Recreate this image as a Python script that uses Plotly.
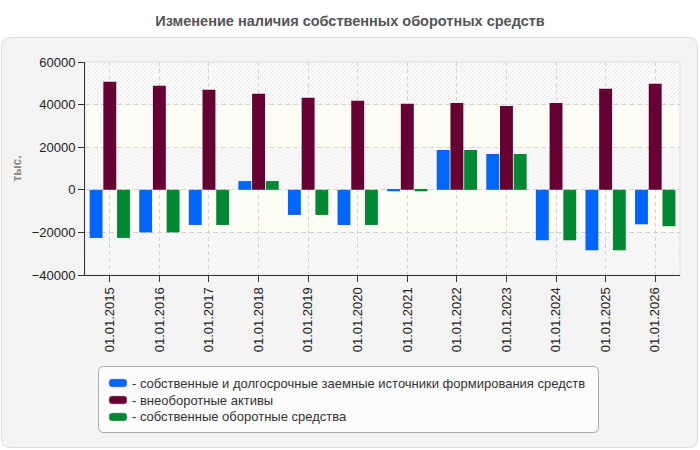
import plotly.graph_objects as go

categories = ["01.01.2015", "01.01.2016", "01.01.2017", "01.01.2018", "01.01.2019", "01.01.2020",
              "01.01.2021", "01.01.2022", "01.01.2023", "01.01.2024", "01.01.2025", "01.01.2026"]
sources = [-22600, -20000, -16500, 4100, -11800, -16500, -700, 18700, 16800, -23700, -28400, -16200]
noncurrent = [50700, 48800, 47000, 45100, 43200, 41800, 40400, 40800, 39400, 40800, 47400, 49800]
working = [-22600, -20000, -16500, 4100, -11800, -16500, -700, 18700, 16800, -23700, -28400, -17100]

names = ["- собственные и долгосрочные заемные источники формирования средств",
         "- внеоборотные активы",
         "- собственные оборотные средства"]
colors = ["#0066ff", "#660033", "#008833"]

W, H = 700, 450
L, R, T, B = 85, 20, 62, 175
PW, PH = W - L - R, H - T - B
Y0, Y1 = -40000, 60000


def px_x(px):
    return (px - L) / PW


def px_y(py):
    return (T + PH - py) / PH


def rounded(x0, y0, x1, y1, r):
    a, b, c, d = px_x(x0), px_x(x1), px_y(y0), px_y(y1)
    rx, ry = r / PW, r / PH
    return (f"M{a+rx},{c} L{b-rx},{c} Q{b},{c} {b},{c-ry} L{b},{d+ry} Q{b},{d} {b-rx},{d} "
            f"L{a+rx},{d} Q{a},{d} {a},{d+ry} L{a},{c-ry} Q{a},{c} {a+rx},{c} Z")


def yv(v):
    return (Y1 - v) / (Y1 - Y0) * PH


shapes = []
# outer panel
shapes.append(dict(type="path", xref="paper", yref="paper", path=rounded(1.5, 37.5, 697.5, 447.5, 9),
                   fillcolor="#f4f4f4", line=dict(color="#dedede", width=1), layer="below"))
# legend box
shapes.append(dict(type="path", xref="paper", yref="paper", path=rounded(98.5, 366.5, 598.5, 432.5, 5),
                   fillcolor="#fcfcfc", line=dict(color="#aaaaaa", width=1), layer="below"))
D = dict(xref="paper", yref="paper", layer="below")
# plot background
shapes.append(dict(type="rect", x0=0, x1=1, y0=0, y1=1, fillcolor="#fbfbfb", line=dict(width=0), **D))
# ivory bands
for a, b in [(20000, 40000), (-20000, 0)]:
    shapes.append(dict(type="rect", x0=0, x1=1, y0=1 - yv(a) / PH, y1=1 - yv(b) / PH,
                       fillcolor="#fdfdf6", line=dict(width=0), **D))
# hatch bands
segs = []
step = 4
for a, b in [(40000, 60000), (0, 20000), (-40000, -20000)]:
    ya, yb = yv(b), yv(a)
    c = ya + 1
    while c < PW + yb:
        if c - yb < 0:
            sx, sy = 0, c
        else:
            sx, sy = c - yb, yb
        if c - ya > PW:
            ex, ey = PW, c - PW
        else:
            ex, ey = c - ya, ya
        segs.append(f"M{sx/PW:.5f},{1-sy/PH:.5f} L{ex/PW:.5f},{1-ey/PH:.5f}")
        c += step
shapes.append(dict(type="path", path=" ".join(segs), line=dict(color="#ebebeb", width=1), **D))
# plot border (top/right)
shapes.append(dict(type="rect", x0=0, x1=1, y0=0, y1=1, line=dict(color="#dcdcdc", width=1), **D))

# manual legend (swatches + labels)
annotations = []
leg_y = [383, 400, 417]
for nm, col, py in zip(names, colors, leg_y):
    shapes.append(dict(type="path", xref="paper", yref="paper", path=rounded(109, py - 4, 127, py + 4, 3),
                       fillcolor=col, line=dict(color="#aaaaaa", width=0.5), layer="above"))
    annotations.append(dict(text=nm, xref="paper", yref="paper", x=px_x(130), y=px_y(py),
                            xanchor="left", yanchor="middle", showarrow=False,
                            font=dict(size=13, color="#333333")))

fig = go.Figure()
for vals, nm, col in zip([sources, noncurrent, working], names, colors):
    fig.add_trace(go.Bar(x=categories, y=vals, name=nm, marker=dict(color=col, line=dict(width=0))))

fig.update_layout(
    width=W, height=H,
    margin=dict(l=L, r=R, t=T, b=B),
    paper_bgcolor="white",
    plot_bgcolor="rgba(0,0,0,0)",
    barmode="group", bargap=0.17, bargroupgap=0.06,
    font=dict(family="Liberation Sans, Arial, sans-serif", color="#222"),
    title=dict(text="<b>Изменение наличия собственных оборотных средств</b>",
               x=0.5, xref="container", xanchor="center",
               y=1 - 21 / H, yref="container", yanchor="middle",
               font=dict(size=14.5, color="#555555")),
    shapes=shapes,
    annotations=annotations,
    showlegend=False,
    xaxis=dict(type="category", tickangle=-90, showgrid=True, gridcolor="#d4d4d4", griddash="4px,3px",
               gridwidth=1, showline=True, linecolor="#333333", linewidth=1,
               ticks="outside", ticklen=6, tickcolor="#333333",
               tickfont=dict(size=13, color="#222222"), range=[-0.5, 11.5]),
    yaxis=dict(range=[Y0, Y1], dtick=20000, tickformat="d", showgrid=True, gridcolor="#d4d4d4",
               griddash="5px,3px", zeroline=False, showline=True, linecolor="#333333", linewidth=1,
               ticks="outside", ticklen=6, tickcolor="#333333",
               tickfont=dict(size=13, color="#222222"),
               title=dict(text="<b>тыс.</b>", font=dict(size=12, color="#888888"), standoff=7)),
)

fig.write_html("out.html")
